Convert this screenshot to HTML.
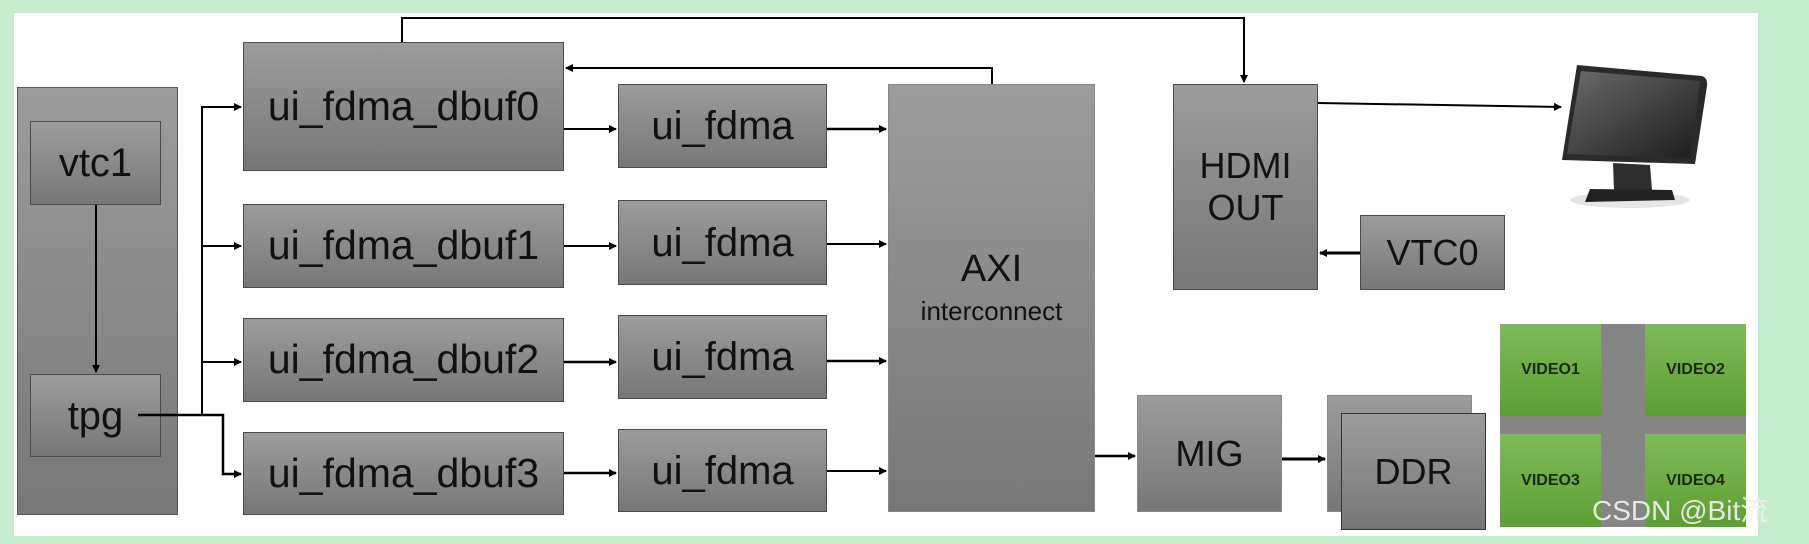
<!DOCTYPE html>
<html><head><meta charset="utf-8"><style>
body{margin:0;width:1809px;height:544px;background:#c6ecce;position:relative;overflow:hidden;font-family:"Liberation Sans","Noto Sans CJK SC",sans-serif;}
.p{position:absolute;left:14px;top:13px;width:1744px;height:523px;background:#fff;}
.b{position:absolute;box-sizing:border-box;border:1.5px solid #4a4a4a;background:linear-gradient(#9c9c9c,#777);color:#111;display:flex;align-items:center;justify-content:center;text-align:center;line-height:1.05;}
.v{position:absolute;background:linear-gradient(#7fba58,#5e9e34);display:flex;align-items:center;justify-content:center;font:bold 16px "Liberation Sans",sans-serif;color:#1a2a10;}
svg{position:absolute;left:0;top:0;}
</style></head><body>
<div class="p"></div>
<div class="b" style="left:17px;top:87px;width:161px;height:428px;border-color:#555"></div>
<div class="b" style="left:30px;top:121px;width:131px;height:84px;font-size:40px">vtc1</div>
<div class="b" style="left:30px;top:374px;width:131px;height:83px;font-size:40px">tpg</div>
<div class="b" style="left:243px;top:42px;width:321px;height:129px;font-size:41px">ui_fdma_dbuf0</div>
<div class="b" style="left:243px;top:204px;width:321px;height:84px;font-size:41px">ui_fdma_dbuf1</div>
<div class="b" style="left:243px;top:318px;width:321px;height:84px;font-size:41px">ui_fdma_dbuf2</div>
<div class="b" style="left:243px;top:432px;width:321px;height:83px;font-size:41px">ui_fdma_dbuf3</div>
<div class="b" style="left:618px;top:84px;width:209px;height:84px;font-size:40px">ui_fdma</div>
<div class="b" style="left:618px;top:200px;width:209px;height:85px;font-size:40px">ui_fdma</div>
<div class="b" style="left:618px;top:315px;width:209px;height:84px;font-size:40px">ui_fdma</div>
<div class="b" style="left:618px;top:429px;width:209px;height:83px;font-size:40px">ui_fdma</div>
<div class="b" style="left:888px;top:84px;width:207px;height:428px;flex-direction:column;border-color:#888"><div style="font-size:38px;margin-top:-20px">AXI</div><div style="font-size:26px;margin-top:8px">interconnect</div></div>
<div class="b" style="left:1173px;top:84px;width:145px;height:206px;font-size:36px;flex-direction:column"><div>HDMI</div><div style="margin-top:4px">OUT</div></div>
<div class="b" style="left:1360px;top:215px;width:145px;height:75px;font-size:36px">VTC0</div>
<div class="b" style="left:1137px;top:395px;width:145px;height:117px;font-size:36px;border-color:#888">MIG</div>
<div class="b" style="left:1327px;top:395px;width:145px;height:117px;border-color:#888"></div>
<div class="b" style="left:1341px;top:413px;width:145px;height:117px;font-size:36px;border-color:#333">DDR</div>
<div style="position:absolute;left:1500px;top:324px;width:246px;height:203px;background:#858585"></div>
<div class="v" style="left:1500px;top:324px;width:101px;height:92px">VIDEO1</div>
<div class="v" style="left:1645px;top:324px;width:101px;height:92px">VIDEO2</div>
<div class="v" style="left:1500px;top:434px;width:101px;height:93px">VIDEO3</div>
<div class="v" style="left:1645px;top:434px;width:101px;height:93px">VIDEO4</div>
<svg width="1809" height="544">
<defs><marker id="a" markerWidth="8" markerHeight="8" refX="7" refY="4" orient="auto" markerUnits="userSpaceOnUse"><path d="M0,0 L8,4 L0,8 Z" fill="#000"/></marker>
<linearGradient id="s" x1="0" y1="0" x2="1" y2="1"><stop offset="0" stop-color="#6a6a6a"/><stop offset="1" stop-color="#1c1c1c"/></linearGradient></defs>
<g stroke="#000" stroke-width="2" fill="none">
<path d="M96 205 V372" marker-end="url(#a)"/>
<path d="M138 415 H223 V474 H241" stroke-width="2.5" marker-end="url(#a)"/>
<path d="M202 415 V107 H241" marker-end="url(#a)"/>
<path d="M202 246 H241" marker-end="url(#a)"/>
<path d="M202 362 H241" marker-end="url(#a)"/>
<path d="M564 129 H616" marker-end="url(#a)"/>
<path d="M564 246 H616" marker-end="url(#a)"/>
<path d="M564 362 H616" stroke-width="2.5" marker-end="url(#a)"/>
<path d="M564 473 H616" stroke-width="2.5" marker-end="url(#a)"/>
<path d="M827 129 H886" stroke-width="2.5" marker-end="url(#a)"/>
<path d="M827 244 H886" marker-end="url(#a)"/>
<path d="M827 361 H886" stroke-width="2.5" marker-end="url(#a)"/>
<path d="M827 471 H886" marker-end="url(#a)"/>
<path d="M402 42 V18 H1244 V82" marker-end="url(#a)"/>
<path d="M992 84 V68 H566" marker-end="url(#a)"/>
<path d="M1095 456 H1135" stroke-width="2.5" marker-end="url(#a)"/>
<path d="M1282 459 H1325" stroke-width="3" marker-end="url(#a)"/>
<path d="M1318 103 L1561 107" marker-end="url(#a)"/>
<path d="M1360 253 H1320" stroke-width="3" marker-end="url(#a)"/>
</g>
<ellipse cx="1630" cy="200" rx="60" ry="8" fill="#e6e6e6"/>
<path d="M1577 65 L1702 76 Q1708 78 1707 86 L1695 164 L1562 160 Z" fill="#2a2a2a"/>
<path d="M1581 71 L1700 81 L1690 158 L1567 154 Z" fill="url(#s)"/>
<path d="M1613 163 L1650 165 L1652 190 L1614 190 Z" fill="#2e2e2e"/>
<path d="M1590 189 L1672 190 L1675 200 L1585 202 Z" fill="#222"/>
<text x="1592" y="520" font-family="Liberation Sans, Noto Sans CJK SC, sans-serif" font-size="28" fill="#f2f2f2" opacity="0.9">CSDN @Bit流</text>
</svg>
</body></html>
